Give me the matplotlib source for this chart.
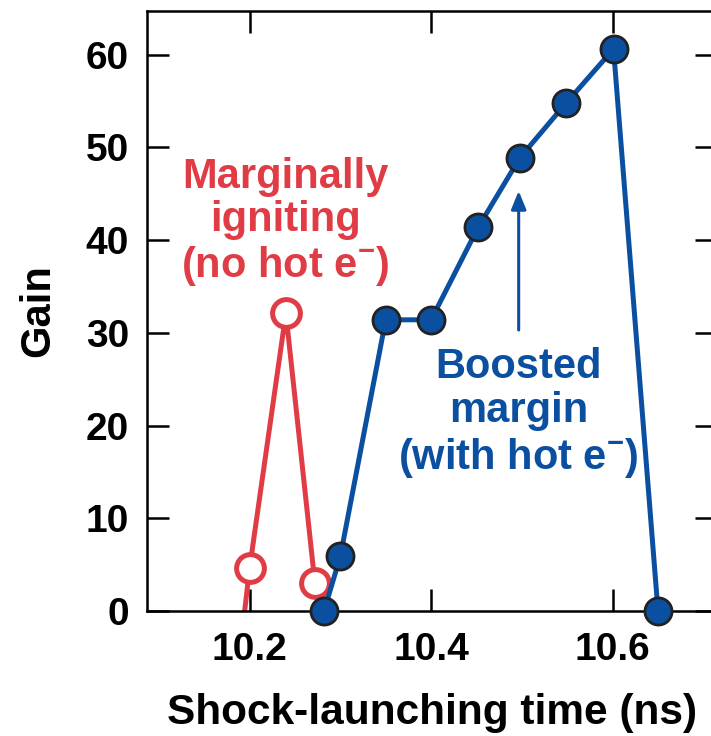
import matplotlib
matplotlib.use("Agg")
import matplotlib.pyplot as plt

plt.rcParams['font.family'] = ['Liberation Sans', 'DejaVu Sans']
plt.rcParams['font.weight'] = 'bold'
plt.rcParams['mathtext.fontset'] = 'custom'
plt.rcParams['mathtext.rm'] = 'Liberation Sans:bold'
plt.rcParams['mathtext.bf'] = 'Liberation Sans:bold'

# data
no_hot_x = [10.19, 10.20, 10.24, 10.272]      # first point lies below the axis (clipped)
no_hot_y = [-3.9, 4.6, 32.1, 3.0]
hot_x = [10.282, 10.300, 10.350, 10.400, 10.452, 10.498, 10.549, 10.601, 10.650]
hot_y = [0.0, 5.9, 31.4, 31.4, 41.4, 48.9, 54.8, 60.6, 0.0]

x_ticks = [10.2, 10.4, 10.6]
y_ticks = [0, 10, 20, 30, 40, 50, 60]

red = '#e03c45'
blue = '#0a4fa0'
edge = '#222222'

fig = plt.figure(figsize=(7.11, 7.36), dpi=100)
ax = fig.add_axes([147 / 711, 125 / 736, 570 / 711, 600 / 736])

# red line, with the first (below-axis) point unmarked
ax.plot(no_hot_x, no_hot_y, color=red, lw=3.6, zorder=2)
ax.plot(no_hot_x[1:], no_hot_y[1:], ls='none', marker='o', ms=20,
        mfc='white', mec=red, mew=3.6, zorder=3, clip_on=False)

ax.plot(hot_x, hot_y, color=blue, lw=3.6, marker='o', ms=19.5,
        mfc=blue, mec=edge, mew=2, zorder=4, clip_on=False)

ax.set_xlim(10.087, 10.715)
ax.set_ylim(0, 64.7)
ax.set_xticks(x_ticks)
ax.set_xticklabels([f'{v:.1f}' for v in x_ticks])
ax.set_yticks(y_ticks)

ax.tick_params(direction='in', length=15.5, width=1.8, labelsize=28,
               top=True, right=True)
ax.tick_params(axis='y', pad=13)
ax.tick_params(axis='x', pad=15)
for s in ax.spines.values():
    s.set_linewidth(1.8)

ax.set_xlabel('Shock-launching time (ns)', fontsize=30.5, fontweight='bold', labelpad=18)
ax.set_ylabel('Gain', fontsize=30, fontweight='bold', labelpad=20)

ax.text(10.2395, 41.9, 'Marginally\nigniting\n(no hot e$^{\\mathbf{-}}$)',
        color=red, fontsize=30, fontweight='bold', ha='center', va='center',
        linespacing=1.1)
ax.text(10.4965, 21.3, 'Boosted\nmargin\n(with hot e$^{\\mathbf{-}}$)',
        color=blue, fontsize=30, fontweight='bold', ha='center', va='center',
        linespacing=1.15)
ax.annotate('', xy=(10.4965, 45.3), xytext=(10.4965, 30.3),
            arrowprops=dict(arrowstyle='-|>,head_length=1.1,head_width=0.45',
                            color=blue, lw=2.2, shrinkA=0, shrinkB=0))

fig.savefig('out.png', dpi=100)
